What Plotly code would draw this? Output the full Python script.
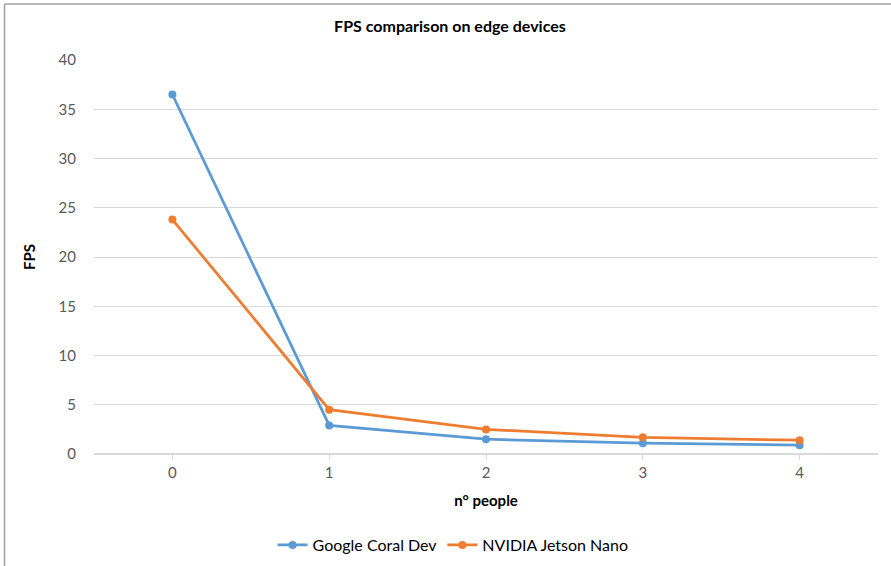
import plotly.graph_objects as go

people = [0, 1, 2, 3, 4]
coral_fps = [36.5, 2.9, 1.5, 1.1, 0.9]
jetson_fps = [23.8, 4.5, 2.5, 1.7, 1.4]
y_ticks = [0, 5, 10, 15, 20, 25, 30, 35, 40]

FONT = "Lato, Calibri, Carlito, sans-serif"
L, R, T, B = 93.5, 13, 60, 112
W, H = 891, 566
pw, ph = W - L - R, H - T - B

def px(x):
    return (x - L) / pw

def py(y):
    return (H - B - y) / ph

fig = go.Figure()
fig.add_trace(go.Scatter(x=people, y=coral_fps, name="Google Coral Dev", mode="lines+markers",
                         line=dict(color="#5B9BD5", width=2.75), marker=dict(size=8, color="#5B9BD5")))
fig.add_trace(go.Scatter(x=people, y=jetson_fps, name="NVIDIA Jetson Nano", mode="lines+markers",
                         line=dict(color="#ED7D31", width=2.75), marker=dict(size=8, color="#ED7D31")))

fig.update_layout(
    width=W, height=H,
    margin=dict(l=L, r=R, t=T, b=B, autoexpand=False),
    paper_bgcolor="white", plot_bgcolor="white",
    font=dict(family=FONT, size=15, color="#595959"),
    title=dict(text="<b>FPS comparison on edge devices</b>", x=0.505, xanchor="center",
               y=1 - 26 / H, yanchor="middle", font=dict(size=16, color="#000000", family=FONT)),
    xaxis=dict(range=[-0.5, 4.5], tickvals=people, ticktext=[str(p) for p in people],
               showgrid=False, zeroline=False, showline=False,
               ticks="outside", ticklen=5, tickcolor="#d9d9d9", tickwidth=1,
               tickfont=dict(size=15, color="#595959"),
               title=dict(text="<b>n° people</b>", font=dict(size=15, color="#000000"), standoff=15)),
    yaxis=dict(range=[0, 40], tickvals=y_ticks, showgrid=True, gridcolor="#d9d9d9", gridwidth=1,
               zeroline=True, zerolinecolor="#d9d9d9", zerolinewidth=1.5, showline=False,
               ticks="", tickfont=dict(size=15, color="#595959"), ticklabelstandoff=17,
               title=dict(text="<b>FPS</b>", font=dict(size=15, color="#000000"), standoff=19)),
    legend=dict(orientation="h", x=0.458, xanchor="center", y=py(545), yanchor="middle",
                font=dict(size=16, color="#000000"), itemwidth=30, tracegroupgap=0),
    showlegend=True,
)

fig.add_shape(type="line", xref="paper", yref="paper", x0=px(4), x1=px(4), y0=py(566), y1=py(4),
              line=dict(color="#a0a0a0", width=1.5))
fig.add_shape(type="line", xref="paper", yref="paper", x0=px(4), x1=px(891), y0=py(4), y1=py(4),
              line=dict(color="#a0a0a0", width=1.5))

fig.write_html("out.html")
